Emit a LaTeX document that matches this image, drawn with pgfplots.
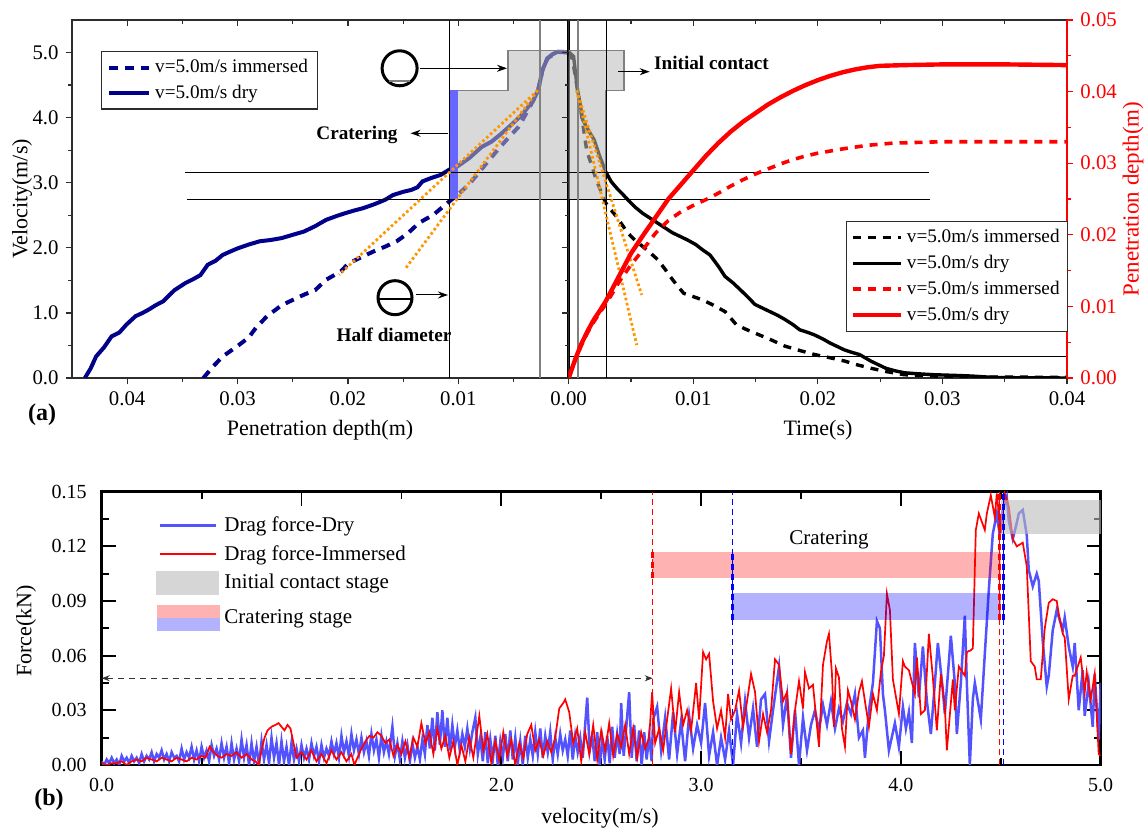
\documentclass[border=0pt]{standalone}
\usepackage{pgfplots}
\pgfplotsset{compat=1.18}
\usepackage{fontspec}
\setmainfont{Liberation Serif}
\usetikzlibrary{arrows.meta}

\definecolor{navyline}{RGB}{0,0,139}
\definecolor{dryblue}{RGB}{82,82,255}
\definecolor{tangent}{RGB}{255,150,0}
\definecolor{boxfill}{RGB}{187,187,187}
\definecolor{boxedge}{RGB}{128,128,128}
\definecolor{framec}{RGB}{45,45,45}

\tikzset{
  twodec/.style={/pgf/number format/fixed,/pgf/number format/fixed zerofill,/pgf/number format/precision=2},
  onedec/.style={/pgf/number format/fixed,/pgf/number format/fixed zerofill,/pgf/number format/precision=1},
  tanline/.style={tangent, line width=1.4pt, dash pattern=on 1.3pt off 1.3pt},
  thinref/.style={black, line width=0.5pt},
  grayref/.style={boxedge, line width=1pt},
}

\pgfplotsset{
  topbase/.style={
    scale only axis, anchor=south west, height=179pt, ymin=0, ymax=5.5,
    scaled ticks=false,
    axis line style={framec, line width=0.7pt},
    tick style={framec, line width=0.6pt},
    major tick length=3.2pt, minor tick length=1.8pt,
    tick label style={font=\fontsize{10.4}{12}\selectfont},
    /pgf/number format/assume math mode=true,
    clip mode=individual,
  },
  velticks/.style={ytick={0,1,2,3,4,5}, minor ytick={0.5,1.5,2.5,3.5,4.5}},
  depthticks/.style={xtick={0,0.01,0.02,0.03,0.04}, minor xtick={0.005,0.015,0.025,0.035}},
  timeticks/.style={xtick={0.01,0.02,0.03,0.04}, minor xtick={0.005,0.015,0.025,0.035}},
}

\begin{document}
\begin{tikzpicture}
\useasboundingbox (0,0) rectangle (573pt,414.5pt);

% ---------------- (a) left half: velocity against penetration depth
\begin{axis}[topbase, velticks, depthticks, at={(36pt,225.5pt)}, width=248.35pt,
  x dir=reverse, xmin=0, xmax=0.045,
  xtick pos=left, ytick pos=left, tick align=outside,
  xticklabel style={twodec}, yticklabel style={onedec},
  legend style={at={(axis description cs:0.0576,0.914)}, anchor=north west,
    draw=framec, line width=0.6pt, font=\fontsize{9.6}{11}\selectfont,
    inner xsep=3pt, inner ysep=2pt, row sep=0.5pt, cells={anchor=west}},
  legend image code/.code={\draw[#1] (0pt,0pt) -- (20pt,0pt);},
]
\addplot[navyline, line width=2pt, dash pattern=on 4.5pt off 3.5pt] coordinates {
(0.03310,0) (0.03220,0.18) (0.03135,0.33) (0.03001,0.49) (0.02900,0.62) (0.02834,0.77)
(0.02733,0.95) (0.02599,1.12) (0.02398,1.28) (0.02297,1.35) (0.02197,1.51) (0.02063,1.64)
(0.01995,1.76) (0.01861,1.87) (0.01760,1.95) (0.01660,2.02) (0.01559,2.10) (0.01459,2.22)
(0.01358,2.38) (0.01224,2.51) (0.01083,2.71) (0.00990,2.84) (0.00900,2.98) (0.00822,3.14)
(0.00720,3.35) (0.00620,3.55) (0.00530,3.72) (0.00453,3.86) (0.00380,4.08) (0.00319,4.27)
(0.00277,4.42) (0.00238,4.73) (0.00193,4.91) (0.00104,5.01) (0.00000,5.00)};
\addlegendentry{v=5.0m/s immersed}
\addplot[navyline, line width=2pt] coordinates {
(0.04383,0) (0.04330,0.15) (0.04282,0.33) (0.04210,0.47) (0.04141,0.64) (0.04070,0.70)
(0.04007,0.82) (0.03924,0.95) (0.03860,1.00) (0.03806,1.05) (0.03740,1.12) (0.03672,1.18)
(0.03620,1.27) (0.03571,1.35) (0.03471,1.46) (0.03400,1.52) (0.03337,1.58) (0.03270,1.74)
(0.03200,1.80) (0.03135,1.89) (0.03070,1.94) (0.03001,1.99) (0.02900,2.05) (0.02800,2.10)
(0.02700,2.12) (0.02599,2.15) (0.02500,2.20) (0.02398,2.25) (0.02300,2.33) (0.02197,2.43)
(0.02100,2.49) (0.02029,2.53) (0.01950,2.57) (0.01861,2.61) (0.01760,2.67) (0.01660,2.74)
(0.01593,2.81) (0.01500,2.86) (0.01425,2.89) (0.01370,2.93) (0.01325,3.02) (0.01250,3.07)
(0.01160,3.12) (0.01083,3.20) (0.01000,3.26) (0.00900,3.38) (0.00788,3.55) (0.00700,3.63)
(0.00620,3.74) (0.00520,3.89) (0.00420,4.05) (0.00319,4.27) (0.00277,4.42) (0.00238,4.73)
(0.00193,4.91) (0.00150,4.97) (0.00104,5.01) (0.00050,5.01) (0.00000,5.00)};
\addlegendentry{v=5.0m/s dry}
% stage boxes
\fill[boxfill, fill opacity=0.56] (axis cs:0.0108,2.745) rectangle (axis cs:0,4.42);
\fill[boxfill, fill opacity=0.56] (axis cs:0.0055,4.42) rectangle (axis cs:0,5.03);
\draw[boxedge, line width=0.6pt] (axis cs:0,5.03) -- (axis cs:0.0055,5.03) -- (axis cs:0.0055,4.42)
  -- (axis cs:0.0108,4.42) -- (axis cs:0.0108,2.745) -- (axis cs:0,2.745);
\fill[blue!60] (axis cs:0.0108,2.745) rectangle (axis cs:0.0100,4.42);
% reference lines
\addplot[thinref, forget plot] coordinates {(0.0348,3.16) (0,3.16)};
\addplot[thinref, forget plot] coordinates {(0.0346,2.745) (0,2.745)};
\addplot[thinref, forget plot] coordinates {(0.0108,0) (0.0108,5.5)};
\addplot[grayref, forget plot] coordinates {(0.0026,0) (0.0026,5.5)};
% tangents
\addplot[tanline, forget plot] coordinates {(0.0028,4.42) (0.0208,1.585)};
\addplot[tanline, forget plot] coordinates {(0.0028,4.42) (0.01476,1.687)};
\draw[black, line width=1.6pt] (axis cs:0,0) -- (axis cs:0,5.5);
\end{axis}

% inward ticks on top and on the shared edge
\begin{axis}[topbase, velticks, depthticks, at={(36pt,225.5pt)}, width=248.35pt,
  x dir=reverse, xmin=0, xmax=0.045,
  xtick pos=right, ytick pos=right, tick align=inside,
  xticklabels={}, yticklabels={}, axis line style={draw=none}]
\end{axis}

% ---------------- (a) right half: velocity against time
\begin{axis}[topbase, timeticks, at={(284.35pt,225.5pt)}, width=249.15pt,
  xmin=0, xmax=0.04, ytick=\empty,
  xtick pos=left, tick align=outside,
  xticklabel style={twodec},
]
\addplot[black, line width=1.7pt, dash pattern=on 4pt off 3.5pt] coordinates {
(0,5.00) (0.00030,4.90) (0.00069,4.45) (0.00110,3.95) (0.00144,3.50) (0.00220,3.05)
(0.00297,2.69) (0.00340,2.58) (0.00384,2.48) (0.00430,2.35) (0.00474,2.23) (0.00530,2.12)
(0.00594,2.02) (0.00650,1.93) (0.00714,1.82) (0.00770,1.68) (0.00834,1.51) (0.00880,1.40)
(0.00924,1.30) (0.01000,1.25) (0.01074,1.20) (0.01160,1.12) (0.01255,1.02) (0.01300,0.92)
(0.01345,0.82) (0.01420,0.75) (0.01495,0.69) (0.01620,0.59) (0.01735,0.49) (0.01860,0.42)
(0.01975,0.36) (0.02100,0.31) (0.02215,0.26) (0.02320,0.20) (0.02425,0.15) (0.02545,0.10)
(0.02695,0.05) (0.02935,0.03) (0.03300,0.015) (0.04000,0.01)};
\addplot[black, line width=1.7pt] coordinates {
(0,5.01) (0.00039,4.94) (0.00069,4.45) (0.00114,3.96) (0.00160,3.80) (0.00204,3.66)
(0.00250,3.40) (0.00297,3.17) (0.00340,3.02) (0.00384,2.92) (0.00430,2.83) (0.00474,2.74)
(0.00530,2.63) (0.00594,2.53) (0.00650,2.46) (0.00714,2.38) (0.00770,2.31) (0.00834,2.23)
(0.00900,2.17) (0.00954,2.12) (0.01020,2.05) (0.01074,1.97) (0.01134,1.89) (0.01200,1.72)
(0.01255,1.56) (0.01320,1.46) (0.01375,1.36) (0.01440,1.24) (0.01495,1.13) (0.01560,1.07)
(0.01615,1.02) (0.01680,0.96) (0.01735,0.90) (0.01800,0.82) (0.01855,0.74) (0.01920,0.70)
(0.01975,0.66) (0.02040,0.60) (0.02095,0.54) (0.02160,0.48) (0.02215,0.43) (0.02280,0.39)
(0.02335,0.36) (0.02380,0.31) (0.02425,0.26) (0.02490,0.20) (0.02545,0.15) (0.02620,0.11)
(0.02695,0.08) (0.02800,0.065) (0.02935,0.05) (0.03100,0.04) (0.03235,0.03) (0.03400,0.01)
(0.03535,0.005) (0.04000,0.00)};
\fill[boxfill, fill opacity=0.56] (axis cs:0,2.745) rectangle (axis cs:0.003,4.42);
\fill[boxfill, fill opacity=0.56] (axis cs:0,4.42) rectangle (axis cs:0.00444,5.03);
\draw[boxedge, line width=0.6pt] (axis cs:0,5.03) -- (axis cs:0.00444,5.03) -- (axis cs:0.00444,4.42)
  -- (axis cs:0.003,4.42) -- (axis cs:0.003,2.745) -- (axis cs:0,2.745);
\addplot[thinref] coordinates {(0,3.16) (0.0289,3.16)};
\addplot[thinref] coordinates {(0,2.745) (0.0290,2.745)};
\addplot[thinref] coordinates {(0,0.327) (0.04,0.327)};
\addplot[thinref] coordinates {(0.003,0) (0.003,5.5)};
\addplot[grayref] coordinates {(0.00078,0) (0.00078,5.5)};
\addplot[tanline] coordinates {(0.00064,4.42) (0.00586,1.275)};
\addplot[tanline] coordinates {(0.00064,4.42) (0.00546,0.507)};
\end{axis}

\begin{axis}[topbase, timeticks, at={(284.35pt,225.5pt)}, width=249.15pt,
  xmin=0, xmax=0.04, ytick=\empty,
  xtick pos=right, tick align=inside,
  xticklabels={}, axis line style={draw=none}]
\end{axis}

% penetration depth against time, right-hand scale
\begin{axis}[topbase, at={(284.35pt,225.5pt)}, width=249.15pt,
  xmin=0, xmax=0.04, ymin=0, ymax=0.05,
  axis x line=none, axis y line*=right,
  y axis line style={red, line width=0.8pt},
  ytick={0,0.01,0.02,0.03,0.04,0.05}, minor ytick={0.005,0.015,0.025,0.035,0.045},
  tick align=outside, y tick style={red, line width=0.6pt},
  yticklabel style={twodec, red},
  legend style={at={(axis description cs:0.5563,0.4394)}, anchor=north west,
    draw=framec, line width=0.6pt, font=\fontsize{9.6}{11}\selectfont,
    inner xsep=2pt, inner ysep=2pt, row sep=0.8pt, cells={anchor=west}},
  legend image code/.code={\draw[#1] (0pt,0pt) -- (24pt,0pt);},
]
\addlegendimage{black, line width=1.7pt, dash pattern=on 4pt off 3.5pt}
\addlegendentry{v=5.0m/s immersed}
\addlegendimage{black, line width=1.7pt}
\addlegendentry{v=5.0m/s dry}
\addplot[red, line width=1.8pt, dash pattern=on 4pt off 3.5pt] coordinates {
(0,0) (0.0005,0.0024) (0.0010,0.0045) (0.0015,0.0063) (0.0020,0.0078) (0.0025,0.0091)
(0.0030,0.0104) (0.0035,0.0118) (0.0040,0.0133) (0.0050,0.0158) (0.0060,0.0180)
(0.0070,0.0203) (0.0080,0.0220) (0.0090,0.0232) (0.0100,0.0241) (0.0110,0.0249)
(0.0120,0.0258) (0.0130,0.0268) (0.0140,0.0277) (0.0150,0.0285) (0.0160,0.0292)
(0.0170,0.0299) (0.0180,0.0305) (0.0190,0.0310) (0.0200,0.0314) (0.0220,0.0320)
(0.0240,0.0325) (0.0260,0.0328) (0.0280,0.0329) (0.0300,0.0330) (0.0400,0.0330)};
\addlegendentry{v=5.0m/s immersed}
\addplot[red, line width=2.2pt] coordinates {
(0,0) (0.0005,0.0025) (0.0010,0.0047) (0.0015,0.0065) (0.0020,0.0081) (0.0025,0.0094)
(0.0030,0.0108) (0.0040,0.0141) (0.0050,0.0174) (0.0060,0.0200) (0.0070,0.0225)
(0.0080,0.0250) (0.0090,0.0270) (0.0100,0.0290) (0.0110,0.0310) (0.0120,0.0328)
(0.0130,0.0344) (0.0140,0.0358) (0.0150,0.0370) (0.0160,0.0382) (0.0170,0.0392)
(0.0180,0.0401) (0.0190,0.0409) (0.0200,0.0416) (0.0210,0.0422) (0.0220,0.0427)
(0.0230,0.0431) (0.0240,0.0434) (0.0250,0.0436) (0.0270,0.0437) (0.0300,0.0438)
(0.0350,0.0438) (0.0400,0.0437)};
\addlegendentry{v=5.0m/s dry}
\end{axis}

% ---------------- (b) drag force against velocity
\begin{axis}[at={(50.85pt,32pt)}, anchor=south west, scale only axis,
  width=499.5pt, height=136.65pt,
  xmin=0, xmax=5, ymin=0, ymax=0.15, scaled ticks=false,
  xtick={0,1,2,3,4,5}, minor xtick={0.5,1.5,2.5,3.5,4.5},
  ytick={0,0.03,0.06,0.09,0.12,0.15}, minor ytick={0.015,0.045,0.075,0.105,0.135},
  tick align=inside, tick pos=both,
  axis line style={black, line width=1.3pt}, tick style={black, line width=0.9pt},
  major tick length=7pt, minor tick length=3.5pt,
  tick label style={font=\fontsize{10}{12}\selectfont},
  xticklabel style={onedec, yshift=-3pt}, yticklabel style={twodec, xshift=-4pt},
  /pgf/number format/assume math mode=true,
  clip mode=individual,
  legend style={at={(axis description cs:0.048,0.94)}, anchor=north west,
    draw=none, fill=none, font=\fontsize{10.5}{12}\selectfont,
    row sep=1.5pt, cells={anchor=west}},
  legend image code/.code={\draw[#1] (2pt,0pt) -- (30pt,0pt);},
]
\addplot[dryblue, line width=1.25pt] coordinates {
(0.0000,0.002)(0.0125,0.000)(0.0250,0.003)(0.0375,0.001)(0.0500,0.004)(0.0625,0.001)(0.0750,0.003)
(0.0875,0.000)(0.1000,0.005)(0.1125,0.002)(0.1250,0.004)(0.1375,0.001)(0.1500,0.005)(0.1625,0.002)
(0.1750,0.004)(0.1875,0.001)(0.2000,0.006)(0.2125,0.002)(0.2250,0.005)(0.2375,0.003)(0.2500,0.007)
(0.2625,0.002)(0.2750,0.006)(0.2875,0.004)(0.3000,0.008)(0.3125,0.003)(0.3250,0.006)(0.3375,0.002)
(0.3500,0.007)(0.3625,0.004)(0.3750,0.005)(0.3875,0.002)(0.4000,0.009)(0.4125,0.003)(0.4250,0.007)
(0.4375,0.004)(0.4500,0.010)(0.4625,0.003)(0.4750,0.008)(0.4875,0.002)(0.5000,0.010)(0.5125,0.004)
(0.5250,0.008)(0.5375,0.002)(0.5500,0.011)(0.5625,0.005)(0.5750,0.009)(0.5875,0.003)(0.6000,0.012)
(0.6125,0.004)(0.6250,0.010)(0.6375,0.001)(0.6500,0.012)(0.6625,0.003)(0.6750,0.009)(0.6875,0.002)
(0.7000,0.014)(0.7125,0.004)(0.7250,0.011)(0.7375,0.000)(0.7500,0.012)(0.7625,0.002)(0.7750,0.010)
(0.7875,0.000)(0.8000,0.013)(0.8125,0.003)(0.8250,0.011)(0.8375,0.001)(0.8500,0.015)(0.8625,0.004)
(0.8750,0.012)(0.8875,0.000)(0.9000,0.013)(0.9125,0.002)(0.9250,0.010)(0.9375,0.000)(0.9500,0.012)
(0.9625,0.003)(0.9750,0.009)(0.9875,0.002)(1.0000,0.011)(1.0125,0.004)(1.0250,0.009)(1.0375,0.003)
(1.0500,0.012)(1.0625,0.005)(1.0750,0.010)(1.0875,0.002)(1.1000,0.011)(1.1125,0.004)(1.1250,0.009)
(1.1375,0.005)(1.1500,0.013)(1.1625,0.006)(1.1750,0.012)(1.1875,0.004)(1.2000,0.016)(1.2125,0.007)
(1.2250,0.013)(1.2375,0.005)(1.2500,0.017)(1.2625,0.008)(1.2750,0.014)(1.2875,0.006)(1.3000,0.015)
(1.3125,0.007)(1.3250,0.013)(1.3375,0.005)(1.3500,0.017)(1.3625,0.008)(1.3750,0.014)(1.3875,0.004)
(1.4000,0.016)(1.4125,0.007)(1.4250,0.013)(1.4375,0.006)(1.4550,0.021)(1.4675,0.005)(1.4800,0.012)
(1.4925,0.003)(1.5050,0.013)(1.5175,0.004)(1.5300,0.011)(1.5425,0.002)(1.5550,0.012)(1.5675,0.004)
(1.5800,0.010)(1.5925,0.003)(1.6050,0.014)(1.6175,0.006)(1.6300,0.022)(1.6425,0.009)(1.6550,0.026)
(1.6675,0.008)(1.6800,0.029)(1.6925,0.011)(1.7050,0.030)(1.7175,0.010)(1.7300,0.026)(1.7425,0.008)
(1.7550,0.022)(1.7675,0.010)(1.7800,0.019)(1.7925,0.008)(1.8050,0.017)(1.8175,0.010)(1.8300,0.020)
(1.8425,0.009)(1.8550,0.018)(1.8700,0.026)(1.8825,0.006)(1.8950,0.015)(1.9075,0.002)(1.9200,0.018)
(1.9325,0.001)(1.9450,0.014)(1.9575,0.003)(1.9700,0.016)(1.9825,0.000)(1.9950,0.013)(2.0075,0.004)
(2.0200,0.017)(2.0325,0.002)(2.0450,0.019)(2.0575,0.003)(2.0700,0.015)(2.0825,0.001)(2.0950,0.013)
(2.1075,0.000)(2.1200,0.016)(2.1325,0.004)(2.1450,0.014)(2.1575,0.005)(2.1700,0.018)(2.1825,0.006)
(2.1950,0.020)(2.2075,0.004)(2.2200,0.016)(2.2325,0.007)(2.2450,0.018)(2.2575,0.003)(2.2700,0.015)
(2.2825,0.006)(2.2950,0.017)(2.3075,0.008)(2.3200,0.014)(2.3325,0.005)(2.3450,0.019)(2.3575,0.003)
(2.3700,0.016)(2.3825,0.007)(2.3950,0.015)(2.4075,0.004)(2.4300,0.037)(2.4425,0.008)(2.4550,0.016)
(2.4675,0.002)(2.4800,0.018)(2.4925,0.000)(2.5050,0.014)(2.5175,0.003)(2.5300,0.016)(2.5425,0.001)
(2.5550,0.021)(2.5675,0.004)(2.5800,0.017)(2.5925,0.006)(2.6000,0.034)(2.6125,0.005)(2.6250,0.020)
(2.6400,0.040)(2.6525,0.004)(2.6650,0.022)(2.6775,0.002)(2.6900,0.019)(2.7025,0.000)(2.7150,0.018)
(2.7275,0.003)(2.7400,0.016)(2.7525,0.002)
(2.760,0.025)(2.780,0.032)(2.800,0.008)(2.820,0.026)(2.840,0.003)(2.860,0.029)(2.880,0.006)(2.900,0.024)
(2.920,0.002)(2.940,0.027)(2.960,0.009)(2.980,0.022)(3.000,0.012)(3.020,0.034)(3.040,0.005)
(3.060,0.018)(3.080,0.000)(3.100,0.015)(3.120,0.003)(3.140,0.019)(3.160,0.000)(3.180,0.028)
(3.200,0.012)(3.220,0.035)(3.240,0.015)(3.260,0.031)(3.280,0.010)(3.300,0.036)(3.320,0.039)
(3.340,0.013)(3.360,0.030)(3.390,0.054)(3.410,0.022)(3.430,0.038)(3.450,0.004)(3.470,0.030)
(3.490,0.000)(3.510,0.026)(3.530,0.008)(3.550,0.022)(3.570,0.030)(3.590,0.019)(3.610,0.033)
(3.630,0.022)(3.650,0.035)(3.670,0.020)(3.690,0.031)(3.710,0.024)(3.730,0.034)(3.750,0.028)
(3.770,0.039)(3.790,0.015)(3.810,0.019)(3.820,0.004)(3.840,0.030)(3.860,0.045)(3.880,0.079)
(3.895,0.075)(3.910,0.039)(3.920,0.030)(3.940,0.008)(3.970,0.023)(3.990,0.010)(4.010,0.032)
(4.025,0.020)(4.040,0.029)(4.055,0.012)(4.070,0.067)(4.090,0.037)(4.110,0.065)(4.130,0.035)
(4.150,0.017)(4.170,0.045)(4.185,0.067)(4.210,0.041)(4.220,0.028)(4.250,0.071)(4.270,0.045)
(4.280,0.017)(4.300,0.045)(4.320,0.082)(4.330,0.045)(4.345,0.000)(4.360,0.036)(4.370,0.045)
(4.400,0.025)(4.420,0.061)(4.440,0.096)(4.460,0.127)(4.480,0.138)(4.490,0.130)(4.510,0.140)
(4.530,0.147)(4.540,0.134)(4.560,0.124)(4.580,0.133)(4.590,0.138)(4.610,0.140)(4.630,0.126)
(4.640,0.107)(4.660,0.098)(4.680,0.105)(4.690,0.101)(4.710,0.068)(4.730,0.043)(4.740,0.049)
(4.760,0.074)(4.780,0.085)(4.810,0.074)(4.820,0.081)(4.840,0.065)(4.860,0.054)(4.870,0.067)
(4.890,0.030)(4.910,0.052)(4.920,0.027)(4.940,0.045)(4.960,0.021)(4.970,0.050)(4.990,0.014)
(5.000,0.045)};
\addlegendentry{Drag force-Dry}
\addplot[red, line width=0.85pt] coordinates {
(0.000,0.001)(0.025,0.000)(0.050,0.001)(0.075,0.001)(0.100,0.002)(0.125,0.000)(0.150,0.002)
(0.175,0.003)(0.200,0.002)(0.225,0.004)(0.250,0.003)(0.275,0.002)(0.300,0.004)(0.325,0.003)
(0.350,0.002)(0.375,0.004)(0.400,0.003)(0.425,0.002)(0.450,0.004)(0.475,0.003)(0.500,0.005)
(0.520,0.004)(0.540,0.010)(0.560,0.007)(0.580,0.005)(0.600,0.004)(0.625,0.006)(0.650,0.005)
(0.675,0.007)(0.700,0.004)(0.725,0.006)(0.750,0.003)(0.770,0.002)(0.785,0.000)(0.800,0.008)
(0.815,0.015)(0.830,0.019)(0.850,0.021)(0.870,0.022)(0.885,0.023)(0.900,0.021)(0.915,0.019)
(0.930,0.022)(0.945,0.020)(0.960,0.012)(0.975,0.004)(1.000,0.007)(1.025,0.003)(1.050,0.008)
(1.075,0.002)(1.100,0.006)(1.125,0.001)(1.150,0.008)(1.175,0.003)(1.200,0.007)(1.225,0.002)
(1.250,0.006)(1.265,0.000)(1.280,0.004)(1.300,0.009)(1.320,0.013)(1.340,0.016)(1.360,0.015)
(1.380,0.018)(1.400,0.016)(1.420,0.012)(1.440,0.014)(1.460,0.005)(1.480,0.011)(1.500,0.006)
(1.520,0.013)(1.540,0.004)(1.560,0.015)(1.580,0.010)(1.600,0.023)(1.620,0.012)(1.640,0.018)
(1.660,0.006)(1.680,0.020)(1.700,0.009)(1.720,0.016)(1.740,0.004)(1.760,0.013)(1.780,0.000)
(1.800,0.011)(1.820,0.002)(1.840,0.015)(1.860,0.004)(1.890,0.027)(1.910,0.008)(1.930,0.017)
(1.950,0.001)(1.970,0.013)(1.990,0.003)(2.010,0.018)(2.030,0.005)(2.050,0.014)(2.070,0.000)
(2.090,0.012)(2.110,0.004)(2.130,0.017)(2.150,0.022)(2.170,0.008)(2.190,0.014)(2.210,0.005)
(2.230,0.013)(2.250,0.007)(2.270,0.015)(2.290,0.031)(2.310,0.034)(2.320,0.036)(2.340,0.029)
(2.360,0.012)(2.380,0.020)(2.400,0.002)(2.420,0.018)(2.440,0.006)(2.460,0.022)(2.480,0.003)
(2.500,0.019)(2.520,0.008)(2.540,0.023)(2.560,0.005)(2.580,0.017)(2.600,0.010)(2.620,0.022)
(2.640,0.006)(2.660,0.020)(2.680,0.004)(2.700,0.018)(2.720,0.009)(2.740,0.015)(2.755,0.040)
(2.770,0.012)(2.790,0.020)(2.810,0.008)(2.830,0.025)(2.850,0.042)(2.870,0.018)(2.890,0.040)
(2.910,0.022)(2.930,0.030)(2.950,0.019)(2.975,0.045)(2.990,0.025)(3.010,0.062)(3.025,0.058)
(3.040,0.061)(3.060,0.035)(3.080,0.020)(3.100,0.030)(3.120,0.015)(3.135,0.039)(3.150,0.025)
(3.170,0.030)(3.190,0.041)(3.210,0.021)(3.230,0.035)(3.250,0.050)(3.270,0.040)(3.290,0.013)
(3.310,0.028)(3.330,0.018)(3.350,0.030)(3.370,0.058)(3.390,0.055)(3.410,0.035)(3.430,0.040)
(3.450,0.006)(3.470,0.030)(3.490,0.046)(3.510,0.031)(3.520,0.051)(3.540,0.042)(3.560,0.044)
(3.590,0.010)(3.610,0.055)(3.630,0.068)(3.640,0.072)(3.655,0.050)(3.665,0.021)(3.675,0.053)
(3.690,0.048)(3.705,0.020)(3.720,0.010)(3.735,0.041)(3.750,0.035)(3.770,0.025)(3.790,0.040)
(3.805,0.046)(3.820,0.035)(3.840,0.021)(3.860,0.039)(3.880,0.030)(3.900,0.051)(3.915,0.060)
(3.930,0.094)(3.945,0.085)(3.960,0.047)(3.990,0.028)(4.010,0.057)(4.020,0.054)(4.040,0.052)
(4.070,0.039)(4.080,0.059)(4.100,0.028)(4.120,0.030)(4.140,0.072)(4.160,0.048)(4.180,0.019)
(4.200,0.050)(4.220,0.032)(4.230,0.008)(4.260,0.047)(4.270,0.030)(4.290,0.054)(4.320,0.049)
(4.330,0.062)(4.350,0.063)(4.360,0.064)(4.375,0.129)(4.390,0.138)(4.420,0.129)(4.430,0.138)
(4.450,0.148)(4.470,0.136)(4.480,0.149)(4.500,0.127)(4.520,0.149)(4.540,0.142)(4.560,0.124)
(4.580,0.120)(4.610,0.122)(4.630,0.109)(4.650,0.057)(4.670,0.054)(4.680,0.047)(4.700,0.047)
(4.720,0.075)(4.740,0.089)(4.760,0.091)(4.780,0.090)(4.790,0.083)(4.810,0.072)(4.820,0.070)
(4.840,0.036)(4.860,0.049)(4.870,0.049)(4.900,0.059)(4.920,0.040)(4.930,0.051)(4.950,0.036)
(4.970,0.050)(4.990,0.006)(5.000,0.005)};
\addlegendentry{Drag force-Immersed}
\addlegendimage{legend image code/.code={\fill[boxfill, fill opacity=0.6, draw=none] (0pt,-6pt) rectangle (31.5pt,6pt);}}
\addlegendentry{Initial contact stage}
\addlegendimage{legend image code/.code={\path (0pt,9.5pt);
  \fill[red, fill opacity=0.3, draw=none] (0.5pt,0pt) rectangle (32pt,6.5pt);
  \fill[blue, fill opacity=0.3, draw=none] (0.5pt,-6.5pt) rectangle (32pt,0pt);}}
\addlegendentry{Cratering stage}
% stage bands
\fill[red, fill opacity=0.3] (axis cs:2.758,0.1025) rectangle (axis cs:4.5,0.1167);
\fill[blue, fill opacity=0.3] (axis cs:3.157,0.0796) rectangle (axis cs:4.5,0.0942);
\fill[boxfill, fill opacity=0.6] (axis cs:4.5,0.1268) rectangle (axis cs:5,0.1454);
% stage boundaries
\addplot[red, line width=0.6pt, dash pattern=on 3pt off 2pt, forget plot] coordinates {(2.758,0) (2.758,0.15)};
\addplot[blue, line width=0.6pt, dash pattern=on 3pt off 2pt, forget plot] coordinates {(3.157,0) (3.157,0.15)};
\addplot[red, line width=0.6pt, dash pattern=on 3pt off 2pt, forget plot] coordinates {(4.493,0) (4.493,0.15)};
\addplot[blue, line width=0.6pt, dash pattern=on 3pt off 2pt, forget plot] coordinates {(4.515,0) (4.515,0.15)};
\addplot[red, line width=1.6pt, dash pattern=on 3pt off 2pt, forget plot] coordinates {(2.758,0.1025) (2.758,0.1167)};
\addplot[blue, line width=1.6pt, dash pattern=on 3pt off 2pt, forget plot] coordinates {(3.157,0.0796) (3.157,0.1167)};
\addplot[red, line width=1.6pt, dash pattern=on 3pt off 2pt, forget plot] coordinates {(4.493,0.0796) (4.493,0.15)};
\addplot[blue, line width=1.6pt, dash pattern=on 3pt off 2pt, forget plot] coordinates {(4.515,0.0796) (4.515,0.15)};
\draw[black!80, line width=0.6pt, dash pattern=on 3pt off 2.5pt,
  {Stealth[length=4pt,width=3pt]}-{Stealth[length=4pt,width=3pt]}]
  (axis cs:0,0.0476) -- (axis cs:2.758,0.0476);
\node[font=\fontsize{10.5}{12}\selectfont] at (axis cs:3.64,0.1235) {Cratering};
\end{axis}

% ---------------- labels and sketches, in image pixel units
\begin{scope}[x=0.5pt, y=-0.5pt, shift={(0pt,414.5pt)}]
  \node[rotate=90, font=\fontsize{11}{13}\selectfont] at (22,199) {Velocity(m/s)};
  \node[rotate=90, font=\fontsize{11.5}{13}\selectfont, text=red] at (1133,199) {Penetration depth(m)};
  \node[font=\fontsize{11}{13}\selectfont] at (320,430) {Penetration depth(m)};
  \node[font=\fontsize{11}{13}\selectfont] at (818,430) {Time(s)};
  \node[font=\bfseries\fontsize{12}{14}\selectfont] at (42,415) {(a)};
  \node[font=\bfseries\fontsize{12}{14}\selectfont] at (49,800) {(b)};
  \node[rotate=90, font=\fontsize{11}{13}\selectfont] at (26,631) {Force(kN)};
  \node[font=\fontsize{11}{13}\selectfont] at (600,818) {velocity(m/s)};
  % contact sketch
  \draw[line width=1.5pt] (399.6,68.3) circle [radius=17.5];
  \draw[gray, line width=1pt] (389,81.5) -- (410,81.5);
  \draw[line width=0.5pt, -{Stealth[length=5pt,width=3.5pt]}] (420,68.3) -- (507,68.3);
  \node[font=\bfseries\fontsize{9.6}{11}\selectfont] at (711.5,63.3) {Initial contact};
  \draw[line width=0.5pt, -{Stealth[length=5pt,width=3.5pt]}] (618,71.7) -- (649.7,71.7);
  \node[font=\bfseries\fontsize{9.6}{11}\selectfont] at (357,135) {Cratering};
  \draw[line width=0.5pt, -{Stealth[length=5pt,width=3.5pt]}] (448,133.3) -- (410.6,133.3);
  % half-diameter sketch
  \draw[line width=1.5pt] (395,297.7) circle [radius=17];
  \draw[line width=0.6pt] (378,299) -- (412,299);
  \draw[line width=0.5pt, -{Stealth[length=5pt,width=3.5pt]}] (416,295) -- (448,295);
  \node[font=\bfseries\fontsize{9.6}{11}\selectfont] at (394,335) {Half diameter};
\end{scope}
\end{tikzpicture}
\end{document}
